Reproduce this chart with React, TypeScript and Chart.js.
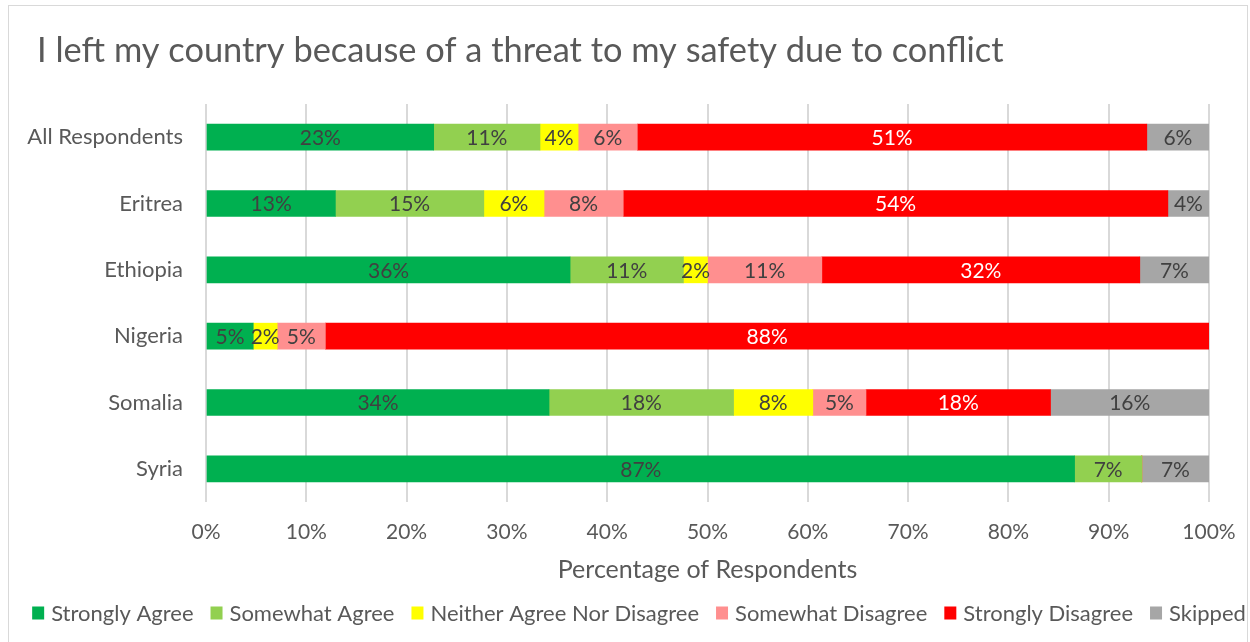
import React, { useEffect, useRef } from "react";
import { Chart, registerables } from "chart.js";

Chart.register(...registerables);

const chartTitle = "I left my country because of a threat to my safety due to conflict";
const categories = ["All Respondents", "Eritrea", "Ethiopia", "Nigeria", "Somalia", "Syria"];
const seriesNames = [
  "Strongly Agree",
  "Somewhat Agree",
  "Neither Agree Nor Disagree",
  "Somewhat Disagree",
  "Strongly Disagree",
  "Skipped",
];
const stronglyAgree = [22.7, 12.9, 36.3, 4.7, 34.2, 86.6];
const somewhatAgree = [10.6, 14.8, 11.3, 0, 18.4, 6.7];
const neitherAgree = [3.8, 6.0, 2.4, 2.4, 7.9, 0];
const somewhatDisagree = [5.9, 7.9, 11.4, 4.8, 5.3, 0];
const stronglyDisagree = [50.8, 54.3, 31.7, 88.1, 18.4, 0];
const skipped = [6.2, 4.1, 6.9, 0, 15.8, 6.7];
const xTickValues = [0, 10, 20, 30, 40, 50, 60, 70, 80, 90, 100];

const seriesValues = [stronglyAgree, somewhatAgree, neitherAgree, somewhatDisagree, stronglyDisagree, skipped];
const seriesColors = ["#00b050", "#92d050", "#ffff00", "#ff8f8f", "#ff0000", "#a6a6a6"];
const labelColors = ["#404040", "#404040", "#404040", "#404040", "#ffffff", "#404040"];

const FONT = "Lato, 'Open Sans', sans-serif";

const titlePlugin = {
  id: "leftTitle",
  afterDraw(chart: any) {
    const ctx = chart.ctx;
    ctx.save();
    ctx.font = `34.4px ${FONT}`;
    ctx.textAlign = "left";
    ctx.textBaseline = "middle";
    ctx.fillStyle = "#595959";
    ctx.fillText(chartTitle, 37, 51.4);
    ctx.restore();
  },
};

const segmentLabels = {
  id: "segmentLabels",
  afterDatasetsDraw(chart: any) {
    const ctx = chart.ctx;
    ctx.save();
    ctx.font = `21px ${FONT}`;
    ctx.textAlign = "center";
    ctx.textBaseline = "middle";
    chart.data.datasets.forEach((ds: any, i: number) => {
      const meta = chart.getDatasetMeta(i);
      meta.data.forEach((bar: any, j: number) => {
        const v = ds.data[j];
        if (!v) return;
        const p = bar.getProps(["x", "y", "base"], true);
        ctx.fillStyle = labelColors[i];
        ctx.fillText(Math.round(v) + "%", (p.x + p.base) / 2, p.y + 1);
      });
    });
    ctx.restore();
  },
};

const bottomLegend = {
  id: "bottomLegend",
  afterDraw(chart: any) {
    const ctx = chart.ctx;
    ctx.save();
    ctx.font = `22px ${FONT}`;
    ctx.textBaseline = "middle";
    ctx.textAlign = "left";
    const box = 12;
    const gap = 7;
    const itemGap = 17;
    const widths = seriesNames.map((n) => box + gap + ctx.measureText(n).width);
    const total = widths.reduce((a, b) => a + b, 0) + itemGap * (widths.length - 1);
    let x = 639 - total / 2;
    const y = 613;
    seriesNames.forEach((n, i) => {
      ctx.fillStyle = seriesColors[i];
      ctx.fillRect(x, y - 6.5, box, 13);
      ctx.fillStyle = "#595959";
      ctx.fillText(n, x + box + gap, y + 1);
      x += widths[i] + itemGap;
    });
    ctx.restore();
  },
};

export default function App() {
  const ref = useRef<HTMLCanvasElement | null>(null);

  useEffect(() => {
    if (!ref.current) return;
    const chart = new Chart(ref.current, {
      type: "bar",
      data: {
        labels: categories,
        datasets: seriesNames.map((name, i) => ({
          label: name,
          data: seriesValues[i],
          backgroundColor: seriesColors[i],
          borderWidth: 0,
          barThickness: 26,
        })),
      },
      options: {
        indexAxis: "y",
        responsive: false,
        animation: false,
        layout: { padding: { top: 104, left: 10, right: 41, bottom: 57 } },
        plugins: {
          legend: { display: false },
          tooltip: { enabled: false },
          title: { display: false },
        },
        scales: {
          x: {
            stacked: true,
            min: 0,
            max: 100,
            afterBuildTicks: (scale: any) => {
              scale.ticks = xTickValues.map((v) => ({ value: v }));
            },
            afterFit: (scale: any) => {
              scale.height = 83;
              scale.paddingLeft = 0;
              scale.paddingRight = 0;
            },
            ticks: {
              callback: (v: any) => v + "%",
              color: "#595959",
              font: { family: FONT, size: 21 },
              padding: 18,
              maxRotation: 0,
            },
            grid: { color: "#d9d9d9", lineWidth: 2, drawTicks: false },
            border: { display: false },
            title: {
              display: true,
              text: "Percentage of Respondents",
              color: "#595959",
              font: { family: FONT, size: 25 },
              padding: { top: 12, bottom: 0 },
            },
          },
          y: {
            stacked: true,
            afterFit: (scale: any) => {
              scale.width = 196;
            },
            ticks: {
              color: "#595959",
              font: { family: FONT, size: 22 },
              padding: 23,
            },
            grid: { display: false, drawTicks: false },
            border: { display: false },
          },
        },
      },
      plugins: [segmentLabels, titlePlugin, bottomLegend],
    } as any);
    return () => chart.destroy();
  }, []);

  return (
    <div style={{ position: "absolute", left: 0, top: 0, width: 1250, height: 642, background: "#fff", overflow: "hidden" }}>
      <div
        style={{
          position: "absolute",
          left: 8,
          top: 5,
          width: 1240,
          height: 660,
          border: "1px solid #d9d9d9",
          boxSizing: "border-box",
        }}
      />
      <canvas ref={ref} width={1250} height={642} style={{ position: "absolute", left: 0, top: 0, display: "block" }} />
    </div>
  );
}
